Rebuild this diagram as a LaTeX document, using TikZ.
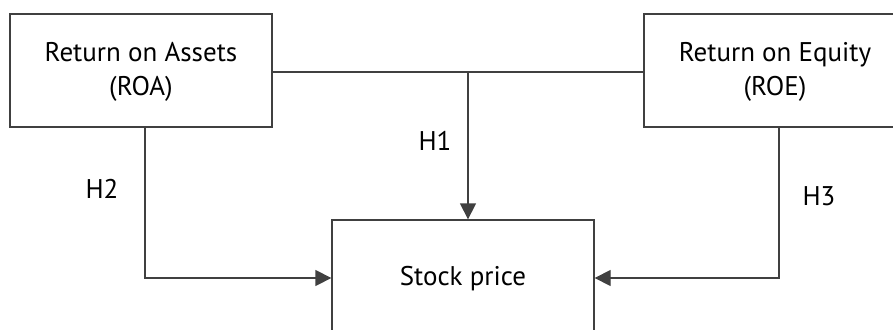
\documentclass[tikz,border=0pt]{standalone}
\usepackage{fontspec}
\setmainfont{PT Sans}
\usetikzlibrary{arrows.meta}
\begin{document}
\begin{tikzpicture}[x=1pt,y=1pt,
  box/.style={draw=black!75, line width=1.3pt, minimum width=262pt, minimum height=113pt, inner sep=0pt},
  lbl/.style={font=\fontsize{27}{34}\selectfont, align=center, text=black},
  conn/.style={draw=black!75, line width=1.3pt},
  arr/.style={conn, -{Triangle[length=16pt,width=16pt]}}]
\useasboundingbox (0,0) rectangle (893,-329);
\clip (0,0) rectangle (893,-329);
\node[box] (roa) at (141,-70.5) {};
\node[lbl] at (141,-72) {Return on Assets\\(ROA)};
\node[box] (roe) at (775,-70.5) {};
\node[lbl] at (775,-72) {Return on Equity\\(ROE)};
\node[box] (sp) at (463,-276.5) {};
\node[lbl] at (463,-279) {Stock price};
\coordinate (j) at (468,-72);
\draw[conn] (roa.east |- j) -- (roe.west |- j);
\draw[arr] (j) -- (j |- sp.north);
\coordinate (a) at (145,-278);
\coordinate (b) at (779,-278);
\draw[arr] (a |- roa.south) -- (a) -- (sp.west |- a);
\draw[arr] (b |- roe.south) -- (b) -- (sp.east |- b);
\node[lbl] (h1) at (435,-141) {H1};
\node[lbl] (h2) at (102,-189) {H2};
\node[lbl] (h3) at (819,-196) {H3};
\end{tikzpicture}
\end{document}
